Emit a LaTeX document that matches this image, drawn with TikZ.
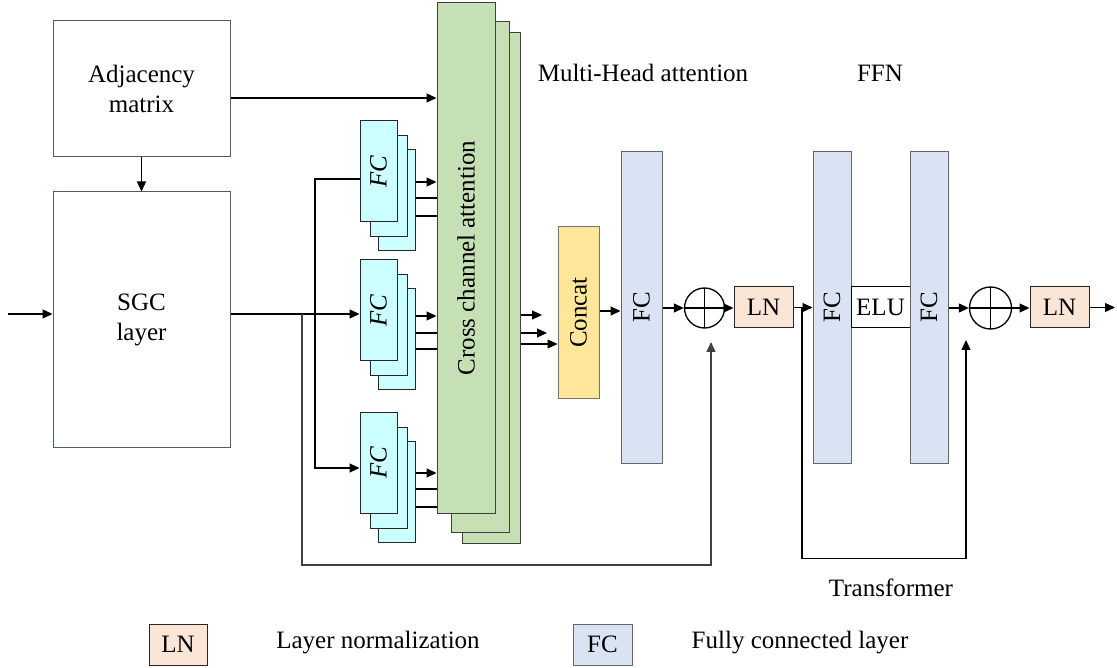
\documentclass[tikz,border=0pt]{standalone}
\usepackage{fontspec}
\setmainfont{Liberation Serif}
\usetikzlibrary{arrows.meta}
\definecolor{cyanfill}{HTML}{CCFFFF}
\definecolor{greenfill}{HTML}{C5E0B4}
\definecolor{concatfill}{HTML}{FFE699}
\definecolor{bluefill}{HTML}{DAE3F3}
\definecolor{lnfill}{HTML}{FBE5D6}
\definecolor{edge}{HTML}{4F5F5F}
\begin{document}
\begin{tikzpicture}[x=1pt,y=-1pt,
  every node/.style={font=\fontsize{25}{30}\selectfont},
  blk/.style={draw=edge, line width=1pt, inner sep=0pt},
  fcs/.style={blk, draw=black!85, fill=cyanfill, minimum width=37pt, minimum height=101pt},
  grn/.style={blk, draw=black!75, fill=greenfill, minimum width=58pt, minimum height=510pt},
  bigfc/.style={blk, draw=black!60, fill=bluefill, minimum height=311pt},
  lnbox/.style={blk, draw=black!85, fill=lnfill, minimum width=59pt, minimum height=41pt},
  plus/.style={circle, draw=black, line width=1.3pt, inner sep=0pt, minimum size=#1,
    path picture={\draw[line width=1.3pt] (path picture bounding box.north) -- (path picture bounding box.south)
      (path picture bounding box.west) -- (path picture bounding box.east);}},
  arr/.style={-{Triangle[length=10pt,width=9pt]}, line width=1.2pt},
  ln/.style={line width=1.2pt}
]
\useasboundingbox (0,0) rectangle (1117,668);

% left blocks
\node[blk, minimum width=177pt, minimum height=136pt, align=center] (adj) at (141.5,89) {Adjacency\\matrix};
\node[blk, minimum width=177pt, minimum height=255pt, align=center] (sgc) at (141.5,319.5) {SGC\\layer};

% FC stacks
\node[fcs] (fc1c) at (396.5,200.5) {};
\node[fcs] (fc1b) at (388.5,186.5) {};
\node[fcs] (fc1a) at (378.5,171.5) {\rotatebox{90}{\itshape FC}};
\node[fcs] (fc2c) at (396.5,339.5) {};
\node[fcs] (fc2b) at (388.5,325.5) {};
\node[fcs] (fc2a) at (378.5,310.5) {\rotatebox{90}{\itshape FC}};
\node[fcs] (fc3c) at (396.5,491.5) {};
\node[fcs] (fc3b) at (388.5,477.5) {};
\node[fcs] (fc3a) at (378.5,462.5) {\rotatebox{90}{\itshape FC}};

% cross channel attention stack
\node[grn] (gC) at (491,288) {};
\node[grn] (gB) at (480,277) {};
\node[grn] (gA) at (466,258) {\rotatebox{90}{Cross channel attention}};

\node[blk, draw=black!55, fill=concatfill, minimum width=41pt, minimum height=171pt] (concat) at (578.5,312.5) {\rotatebox{90}{Concat}};
\node[bigfc, minimum width=41pt] (fcA) at (641.5,307.5) {\rotatebox{90}{FC}};
\node[plus=40pt] (plus1) at (704.5,308) {};
\node[lnbox] (ln1) at (763.5,307.5) {LN};
\node[bigfc, minimum width=38pt] (ffn1) at (832,307.5) {\rotatebox{90}{FC}};
\node[blk, draw=black, fill=white, minimum width=59pt, minimum height=41pt] (elu) at (880.5,307.5) {ELU};
\node[bigfc, minimum width=38pt] (ffn2) at (929,307.5) {\rotatebox{90}{FC}};
\node[plus=42pt] (plus2) at (990.5,308) {};
\node[lnbox] (ln2) at (1059.5,307.5) {LN};

% labels
\node (mha) at (643,73) {Multi-Head attention};
\node (ffn) at (880,73) {FFN};
\node (trf) at (891,588) {Transformer};

% legend
\node[lnbox, minimum width=58pt] (legln) at (178,644.5) {LN};
\node (leglnt) at (378,643) {Layer normalization};
\node[blk, draw=black!60, fill=bluefill, minimum width=59pt, minimum height=41pt] (legfc) at (602.5,644.5) {FC};
\node (legfct) at (800,643) {Fully connected layer};

% coordinates
\coordinate (in) at (8,314);
\coordinate (j1) at (302,314);
\coordinate (j2) at (315,314);
\coordinate (t1) at (711,342);
\coordinate (j3) at (802,307.5);
\coordinate (t2) at (966,340);
\coordinate (o1) at (542,315);
\coordinate (o2) at (547,333);
\coordinate (out) at (1115,307.5);

% connectors
\draw[arr] (in) -- (sgc.west |- in);
\draw[arr] (adj.south) -- (sgc.north);
\draw[arr] (adj.east |- 0,98) -- (gA.west |- 0,98);
\draw[arr] (sgc.east |- j1) -- (fc2a.west |- j1);
\draw[ln] (j2) |- (fc1a.west |- 0,179);
\draw[arr] (j2) |- (fc3a.west |- 0,468);
\draw[arr, draw=black!75] (j1) -- ++(0,251) -| (t1);

\draw[arr] (fc1c.east |- 0,182) -- (gA.west |- 0,182);
\draw[ln] (fc1c.east |- 0,198) -- (gA.west |- 0,198);
\draw[ln] (fc1c.east |- 0,216) -- (gA.west |- 0,216);
\draw[arr] (fc2c.east |- 0,316) -- (gA.west |- 0,316);
\draw[ln] (fc2c.east |- 0,333) -- (gA.west |- 0,333);
\draw[ln] (fc2c.east |- 0,349) -- (gA.west |- 0,349);
\draw[arr] (fc3c.east |- 0,473) -- (gA.west |- 0,473);
\draw[ln] (fc3c.east |- 0,489) -- (gA.west |- 0,489);
\draw[ln] (fc3c.east |- 0,507) -- (gA.west |- 0,507);

\draw[arr] (gC.east |- o1) -- (o1);
\draw[arr] (gC.east |- o2) -- (o2);
\draw[arr] (gC.east |- 0,344) -- (concat.west |- 0,344);
\draw[arr] (concat.east |- 0,311) -- (fcA.west |- 0,311);
\draw[arr] (fcA.east |- plus1) -- (plus1.west);
\draw[arr] (plus1.east) -- (ln1.west |- plus1);
\draw[arr] (ln1.east) -- (ffn1.west);
\draw[arr] (j3) -- ++(0,251) -| (t2);
\draw[arr] (ffn2.east |- plus2) -- (plus2.west);
\draw[arr] (plus2.east) -- (ln2.west |- plus2);
\draw[arr] (ln2.east) -- (out);
\end{tikzpicture}
\end{document}
